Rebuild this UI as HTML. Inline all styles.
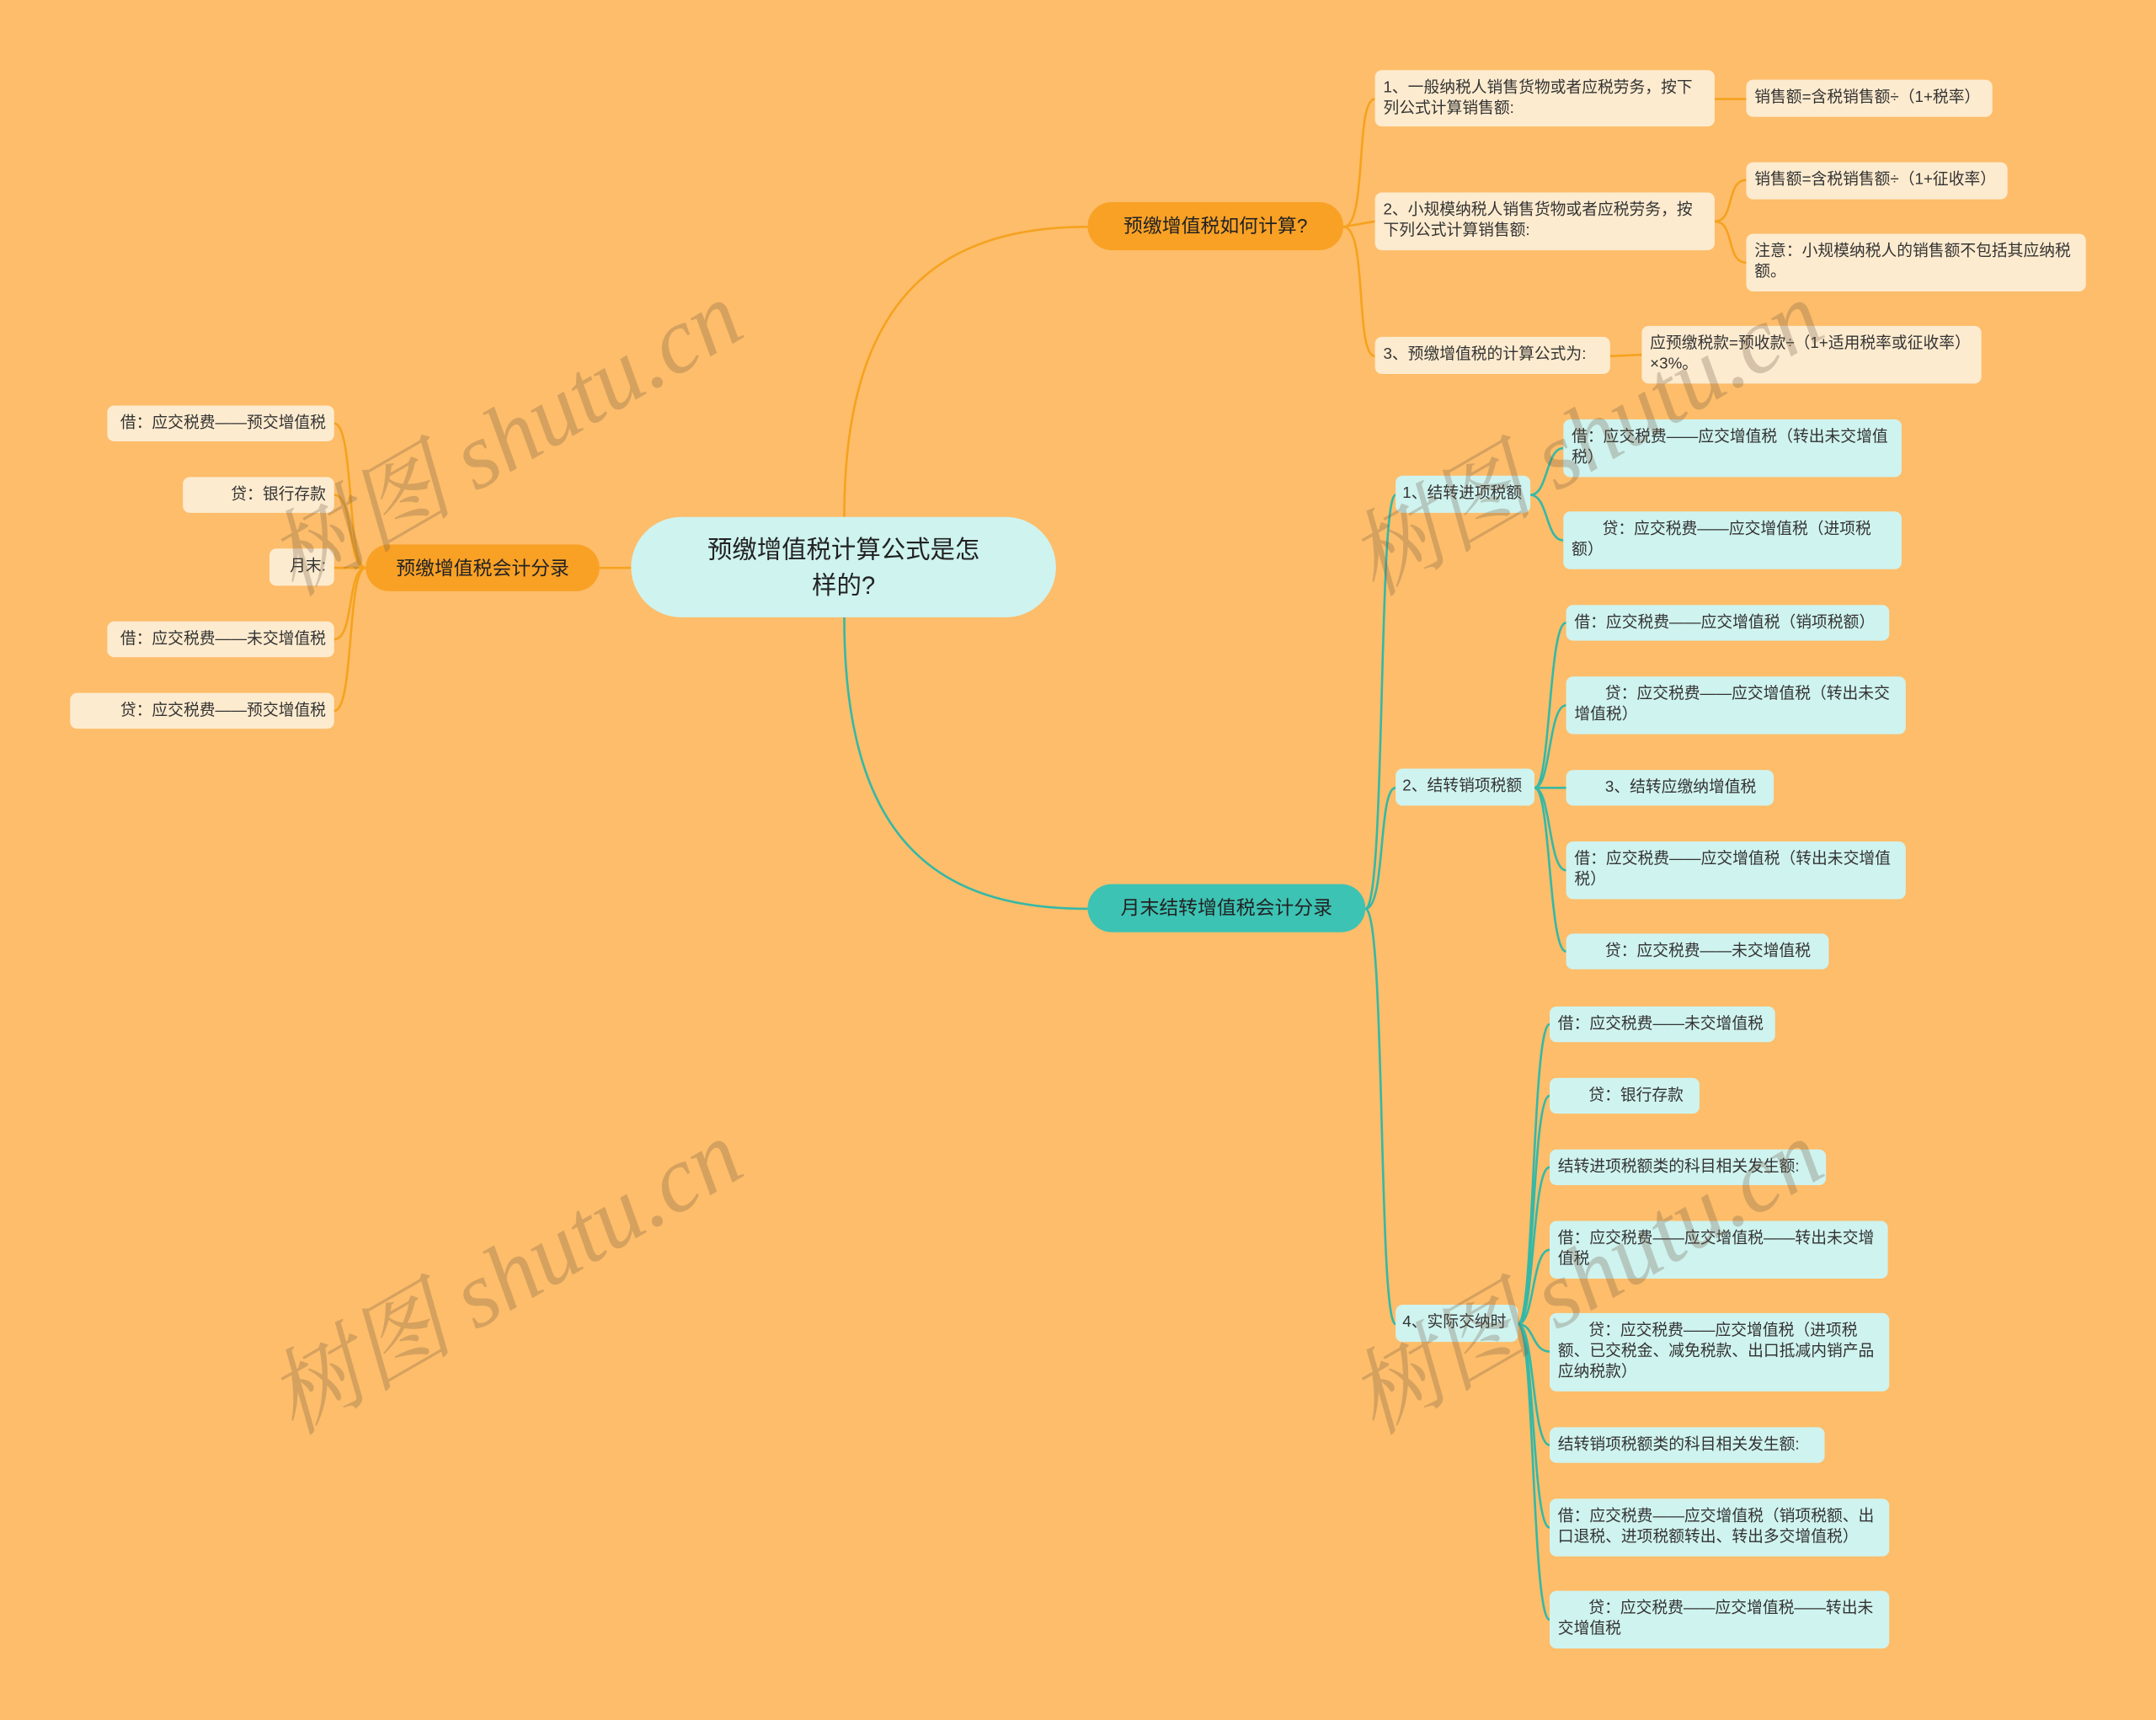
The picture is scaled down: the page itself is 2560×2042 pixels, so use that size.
<!DOCTYPE html>
<html><head><meta charset="utf-8">
<style>
html,body{margin:0;padding:0;background:#FDBD6A;}
body{width:2560px;height:2042px;overflow:hidden;position:relative;}
#w{position:absolute;left:0;top:0;width:1568px;height:1251px;transform:scale(1.63265,1.6323);transform-origin:0 0;font-family:"Liberation Sans","Noto Sans CJK SC",sans-serif;}
.n{position:absolute;box-sizing:border-box;border-radius:5px;font-size:11.5px;line-height:15px;color:#333;padding:6px 6px;}
.c{background:#FDEBCF;}
.t{background:#CFF3EF;}
.mid{display:flex;align-items:center;white-space:nowrap;}
.r{justify-content:flex-end;text-align:right;}
.big{border-radius:18px;font-size:14px;color:#222;justify-content:center;display:flex;align-items:center;}
.wm{position:absolute;font-family:"Liberation Serif","Noto Serif CJK SC",serif;font-size:68px;line-height:68px;color:rgba(110,90,70,0.28);transform:rotate(-30deg);transform-origin:0 0;white-space:nowrap;font-style:italic;}
</style></head><body>
<div id="w">
<svg width="1568" height="1251" style="position:absolute;left:0;top:0" fill="none">
<g stroke="#F5A21F" stroke-width="1.6">
<path d="M614,376 C614,220 680,165 791,165"/>
<path d="M459,413 L436,413"/>
<path d="M977,165 C995,165 985,72 1000,72"/>
<path d="M977,165 L1000,161"/>
<path d="M977,165 C995,165 985,259 1000,259"/>
<path d="M1247,72 L1270,72"/>
<path d="M1247,161 C1262,161 1255,131 1270,131"/>
<path d="M1247,161 C1262,161 1255,191 1270,191"/>
<path d="M1171,259 L1194,258"/>
<path d="M266,413 C252,413 258,308 243,308"/>
<path d="M266,413 C252,413 258,360 243,360"/>
<path d="M266,413 L243,413"/>
<path d="M266,413 C252,413 258,465 243,465"/>
<path d="M266,413 C252,413 258,517 243,517"/>
</g>
<g stroke="#35B8A6" stroke-width="1.6">
<path d="M614,449 C614,610 680,661 791,661"/>
<path d="M993,661 C1008,661 1002,360 1015,360"/>
<path d="M993,661 C1008,661 1002,573 1015,573"/>
<path d="M993,661 C1008,661 1002,963 1015,963"/>
<path d="M1113,360 C1126,360 1124,326 1137,326"/>
<path d="M1113,360 C1126,360 1124,393 1137,393"/>
<path d="M1116,573 C1128,573 1126,453 1139,453"/>
<path d="M1116,573 C1128,573 1126,513 1139,513"/>
<path d="M1116,573 L1139,573"/>
<path d="M1116,573 C1128,573 1126,633 1139,633"/>
<path d="M1116,573 C1128,573 1126,692 1139,692"/>
<path d="M1104,963 C1116,963 1114,745 1127,745"/>
<path d="M1104,963 C1116,963 1114,797 1127,797"/>
<path d="M1104,963 C1116,963 1114,849 1127,849"/>
<path d="M1104,963 C1116,963 1114,909 1127,909"/>
<path d="M1104,963 C1116,963 1114,983 1127,983"/>
<path d="M1104,963 C1116,963 1114,1051 1127,1051"/>
<path d="M1104,963 C1116,963 1114,1111 1127,1111"/>
<path d="M1104,963 C1116,963 1114,1178 1127,1178"/>
</g>
</svg>

<div class="n big t" style="left:459px;top:376px;width:309px;height:73px;border-radius:37px;font-size:18px;line-height:26px;text-align:center;padding:0 52px;">预缴增值税计算公式是怎样的?</div>
<div class="n big" style="left:791px;top:147px;width:186px;height:35px;background:#F9A125;">预缴增值税如何计算?</div>
<div class="n big" style="left:266px;top:396px;width:170px;height:34px;background:#F9A125;">预缴增值税会计分录</div>
<div class="n big" style="left:791px;top:643px;width:202px;height:35px;background:#3CC3B4;">月末结转增值税会计分录</div>

<div class="n c" style="left:1000px;top:51px;width:247px;height:41px;">1、一般纳税人销售货物或者应税劳务，按下列公式计算销售额:</div>
<div class="n c mid" style="left:1270px;top:58px;width:179px;height:27px;">销售额=含税销售额÷（1+税率）</div>
<div class="n c" style="left:1000px;top:140px;width:247px;height:42px;">2、小规模纳税人销售货物或者应税劳务，按下列公式计算销售额:</div>
<div class="n c mid" style="left:1270px;top:118px;width:190px;height:27px;">销售额=含税销售额÷（1+征收率）</div>
<div class="n c" style="left:1270px;top:170px;width:247px;height:42px;">注意：小规模纳税人的销售额不包括其应纳税额。</div>
<div class="n c mid" style="left:1000px;top:245px;width:171px;height:27px;">3、预缴增值税的计算公式为:</div>
<div class="n c" style="left:1194px;top:237px;width:247px;height:42px;">应预缴税款=预收款÷（1+适用税率或征收率）×3%。</div>

<div class="n c mid r" style="left:78px;top:295px;width:165px;height:26px;">借：应交税费——预交增值税</div>
<div class="n c mid r" style="left:133px;top:347px;width:110px;height:26px;">贷：银行存款</div>
<div class="n c mid r" style="left:196px;top:399px;width:47px;height:27px;">月末:</div>
<div class="n c mid r" style="left:78px;top:452px;width:165px;height:26px;">借：应交税费——未交增值税</div>
<div class="n c mid r" style="left:51px;top:504px;width:192px;height:26px;">贷：应交税费——预交增值税</div>

<div class="n t mid" style="left:1015px;top:346px;width:98px;height:27px;padding:0 5px;">1、结转进项税额</div>
<div class="n t" style="left:1137px;top:305px;width:246px;height:42px;">借：应交税费——应交增值税（转出未交增值税）</div>
<div class="n t" style="left:1137px;top:372px;width:246px;height:42px;">&nbsp; &nbsp; &nbsp; &nbsp;贷：应交税费——应交增值税（进项税额）</div>

<div class="n t mid" style="left:1015px;top:559px;width:101px;height:27px;padding:0 5px;">2、结转销项税额</div>
<div class="n t mid" style="left:1139px;top:440px;width:235px;height:26px;">借：应交税费——应交增值税（销项税额）</div>
<div class="n t" style="left:1139px;top:492px;width:247px;height:42px;">&nbsp; &nbsp; &nbsp; &nbsp;贷：应交税费——应交增值税（转出未交增值税）</div>
<div class="n t mid" style="left:1139px;top:560px;width:151px;height:26px;">&nbsp; &nbsp; &nbsp; &nbsp;3、结转应缴纳增值税</div>
<div class="n t" style="left:1139px;top:612px;width:247px;height:42px;">借：应交税费——应交增值税（转出未交增值税）</div>
<div class="n t mid" style="left:1139px;top:679px;width:191px;height:26px;">&nbsp; &nbsp; &nbsp; &nbsp;贷：应交税费——未交增值税</div>

<div class="n t mid" style="left:1015px;top:949px;width:89px;height:27px;padding:0 5px;">4、实际交纳时</div>
<div class="n t mid" style="left:1127px;top:732px;width:164px;height:26px;">借：应交税费——未交增值税</div>
<div class="n t mid" style="left:1127px;top:784px;width:109px;height:26px;">&nbsp; &nbsp; &nbsp; &nbsp;贷：银行存款</div>
<div class="n t mid" style="left:1127px;top:836px;width:201px;height:26px;">结转进项税额类的科目相关发生额:</div>
<div class="n t" style="left:1127px;top:888px;width:246px;height:42px;">借：应交税费——应交增值税——转出未交增值税</div>
<div class="n t" style="left:1127px;top:955px;width:247px;height:57px;">&nbsp; &nbsp; &nbsp; &nbsp;贷：应交税费——应交增值税（进项税额、已交税金、减免税款、出口抵减内销产品应纳税款）</div>
<div class="n t mid" style="left:1127px;top:1038px;width:200px;height:26px;">结转销项税额类的科目相关发生额:</div>
<div class="n t" style="left:1127px;top:1090px;width:247px;height:42px;">借：应交税费——应交增值税（销项税额、出口退税、进项税额转出、转出多交增值税）</div>
<div class="n t" style="left:1127px;top:1157px;width:247px;height:42px;">&nbsp; &nbsp; &nbsp; &nbsp;贷：应交税费——应交增值税——转出未交增值税</div>

<div class="wm" style="left:185px;top:385px;">树图 shutu.cn</div>
<div class="wm" style="left:185px;top:995px;">树图 shutu.cn</div>
<div class="wm" style="left:971px;top:385px;">树图 shutu.cn</div>
<div class="wm" style="left:971px;top:995px;">树图 shutu.cn</div>
</div>
</body></html>
